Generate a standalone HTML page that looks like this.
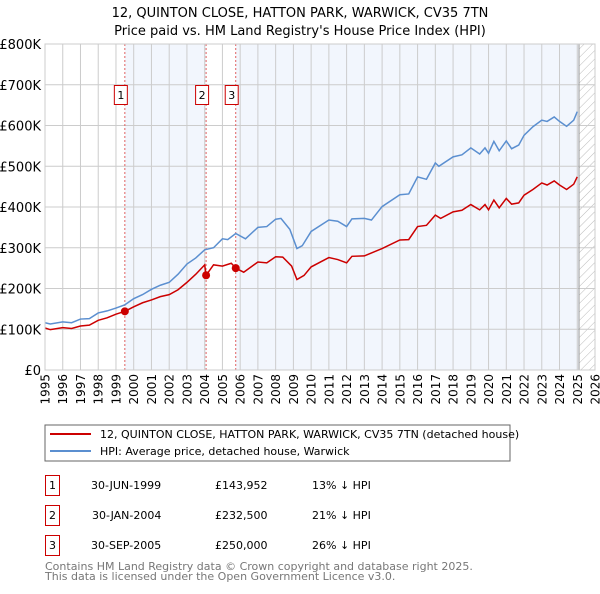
<!DOCTYPE html>
<html><head><meta charset="utf-8"><style>
body{margin:0;background:#fff;width:600px;height:590px;overflow:hidden;font-family:"DejaVu Sans","Liberation Sans",sans-serif;}
svg text{font-family:"DejaVu Sans","Liberation Sans",sans-serif;}
</style></head><body>
<svg id="c" width="600" height="590" xmlns="http://www.w3.org/2000/svg">
<defs><pattern id="hatch" width="6" height="6" patternUnits="userSpaceOnUse" patternTransform="rotate(45)"><line x1="0" y1="0" x2="0" y2="6" stroke="#bbb" stroke-width="1"/></pattern></defs>
<text x="300" y="17" text-anchor="middle" font-size="13" fill="#000">12, QUINTON CLOSE, HATTON PARK, WARWICK, CV35 7TN</text>
<text x="300" y="35" text-anchor="middle" font-size="13" fill="#000">Price paid vs. HM Land Registry's House Price Index (HPI)</text>
<g id="plot"></g>
<rect x="45" y="425" width="465" height="36" fill="#fff" stroke="#666"/>
<line x1="50" y1="434" x2="91" y2="434" stroke="#cc0000" stroke-width="2"/>
<text x="100" y="438" font-size="11">12, QUINTON CLOSE, HATTON PARK, WARWICK, CV35 7TN (detached house)</text>
<line x1="50" y1="451" x2="91" y2="451" stroke="#5b8fd0" stroke-width="2"/>
<text x="100" y="455" font-size="11">HPI: Average price, detached house, Warwick</text>
<g font-size="11">
<rect x="45.5" y="475.5" width="14" height="20" fill="none" stroke="#cc0000"/><text x="52.5" y="489" text-anchor="middle">1</text>
<text x="91" y="489">30-JUN-1999</text><text x="215" y="489">£143,952</text><text x="312" y="489">13% ↓ HPI</text>
<rect x="45.5" y="505.5" width="14" height="20" fill="none" stroke="#cc0000"/><text x="52.5" y="519" text-anchor="middle">2</text>
<text x="92" y="519">30-JAN-2004</text><text x="215" y="519">£232,500</text><text x="312" y="519">21% ↓ HPI</text>
<rect x="45.5" y="535.5" width="14" height="20" fill="none" stroke="#cc0000"/><text x="52.5" y="549" text-anchor="middle">3</text>
<text x="91" y="549">30-SEP-2005</text><text x="215" y="549">£250,000</text><text x="312" y="549">26% ↓ HPI</text>
</g>
<text x="45" y="570" font-size="11" fill="#777">Contains HM Land Registry data © Crown copyright and database right 2025.</text>
<text x="45" y="580" font-size="11" fill="#777">This data is licensed under the Open Government Licence v3.0.</text>
</svg>
<script>
const yTicks=[0,100000,200000,300000,400000,500000,600000,700000,800000];
const yTickLabels=["£0","£100K","£200K","£300K","£400K","£500K","£600K","£700K","£800K"];
const xYears=[1995,1996,1997,1998,1999,2000,2001,2002,2003,2004,2005,2006,2007,2008,2009,2010,2011,2012,2013,2014,2015,2016,2017,2018,2019,2020,2021,2022,2023,2024,2025,2026];
const hpiT=[1995,1995.3,1996,1996.5,1997,1997.5,1998,1998.5,1999,1999.5,2000,2000.5,2001,2001.5,2002,2002.5,2003,2003.5,2004,2004.5,2005,2005.3,2005.75,2006.3,2007,2007.5,2008,2008.3,2008.8,2009.2,2009.5,2010,2011,2011.5,2012,2012.3,2013,2013.4,2014,2015,2015.5,2016,2016.5,2017,2017.2,2018,2018.5,2019,2019.5,2019.8,2020,2020.3,2020.6,2021,2021.3,2021.7,2022,2022.5,2023,2023.3,2023.7,2024,2024.4,2024.8,2025];
const hpiV=[116000,113000,118000,116000,125000,126000,140000,145000,152000,160000,175000,185000,198000,208000,215000,235000,260000,275000,295000,300000,322000,320000,335000,322000,350000,352000,370000,372000,345000,298000,305000,340000,368000,365000,352000,371000,372000,368000,401000,430000,432000,474000,468000,508000,500000,523000,528000,545000,530000,545000,532000,561000,538000,562000,543000,552000,576000,597000,613000,610000,621000,610000,598000,613000,634000];
const ppT=[1995,1995.3,1996,1996.5,1997,1997.5,1998,1998.5,1999,1999.5,2000,2000.5,2001,2001.5,2002,2002.5,2003,2003.5,2004,2004.08,2004.5,2005,2005.5,2005.75,2006.2,2007,2007.5,2008,2008.4,2008.9,2009.2,2009.6,2010,2011,2011.5,2012,2012.3,2013,2014,2015,2015.5,2016,2016.5,2017,2017.3,2018,2018.5,2019,2019.5,2019.8,2020,2020.3,2020.6,2021,2021.3,2021.7,2022,2022.5,2023,2023.3,2023.7,2024,2024.4,2024.8,2025];
const ppV=[103000,99000,104000,102000,108000,110000,122000,128000,137000,144000,155000,165000,172000,180000,185000,197000,215000,235000,258000,232500,258000,255000,262000,250000,240000,265000,263000,278000,277000,255000,222000,232000,253000,276000,271000,263000,279000,280000,298000,319000,320000,352000,355000,380000,372000,388000,392000,406000,393000,406000,393000,417000,398000,421000,407000,410000,429000,443000,459000,454000,464000,454000,443000,456000,474000];
const saleT=[1999.5,2004.08,2005.75];
const saleV=[143952,232500,250000];
const saleLabels=["1","2","3"];
const X0=45,X1=595,Y0=370,Y1=44,T0=1995,T1=2026,VMAX=800000,END=2025.1;
const xs=t=>X0+(t-T0)/(T1-T0)*(X1-X0);
const ys=v=>Y0-v/VMAX*(Y0-Y1);
const NS="http://www.w3.org/2000/svg";
const g=document.getElementById('plot');
function mk(tag,attrs){const e=document.createElementNS(NS,tag);for(const k in attrs)e.setAttribute(k,attrs[k]);g.appendChild(e);return e;}
let e;
e=mk('rect',{x:X0,y:Y1,width:X1-X0,height:Y0-Y1,fill:'#fff'});


e=mk('rect',{x:xs(saleT[0]),y:Y1,width:xs(saleT[1])-xs(saleT[0]),height:Y0-Y1,fill:'#eef3fc',opacity:0.75});


e=mk('rect',{x:xs(saleT[2]),y:Y1,width:xs(END)-xs(saleT[2]),height:Y0-Y1,fill:'#eef3fc',opacity:0.75});


e=mk('rect',{x:xs(END),y:Y1,width:X1-xs(END),height:Y0-Y1,fill:'url(#hatch)'});


yTicks.forEach((v,i)=>{
 e=mk('line',{x1:X0,x2:X1,y1:ys(v),y2:ys(v),stroke:'#ccc','stroke-width':1});
 
 
 e=mk('text',{x:X0-4,y:ys(v)+5,'text-anchor':'end','font-size':13});
 e.textContent=yTickLabels[i];
 
 
});
xYears.forEach(t=>{
 e=mk('line',{x1:xs(t),x2:xs(t),y1:Y1,y2:Y0,stroke:'#ccc','stroke-width':1});
 
 
 const lx=xs(t)+4.5,ly=Y0+4;
 e=mk('text',{x:lx,y:ly,'text-anchor':'end','font-size':12,transform:'rotate(-90 '+lx+' '+ly+')'});
 e.textContent=String(t);
 
 
});
e=mk('line',{x1:xs(END),x2:xs(END),y1:Y1,y2:Y0,stroke:'#999','stroke-width':1});


saleT.forEach((t,i)=>{
 e=mk('line',{x1:xs(t),x2:xs(t),y1:Y1,y2:Y0,stroke:'#e06060','stroke-width':1,'stroke-dasharray':'2,2'});
 
 
 e=mk('rect',{x:xs(t)-10.5,y:85.5,width:13,height:19,fill:'#fff',stroke:'#cc0000'});
 
 
 e=mk('text',{x:xs(t)-4,y:99,'text-anchor':'middle','font-size':11});
 e.textContent=saleLabels[i];
 
 
});
e=mk('polyline',{points:hpiT.map((t,i)=>xs(t)+','+ys(hpiV[i])).join(' '),fill:'none',stroke:'#5b8fd0','stroke-width':1.5});


e=mk('polyline',{points:ppT.map((t,i)=>xs(t)+','+ys(ppV[i])).join(' '),fill:'none',stroke:'#cc0000','stroke-width':1.5});


saleT.forEach((t,i)=>{
 e=mk('circle',{cx:xs(t),cy:ys(saleV[i]),r:4,fill:'#cc0000'});
 
 
});
e=mk('rect',{x:X0,y:Y1,width:X1-X0,height:Y0-Y1,fill:'none',stroke:'#ccc'});


</script>
</body></html>
